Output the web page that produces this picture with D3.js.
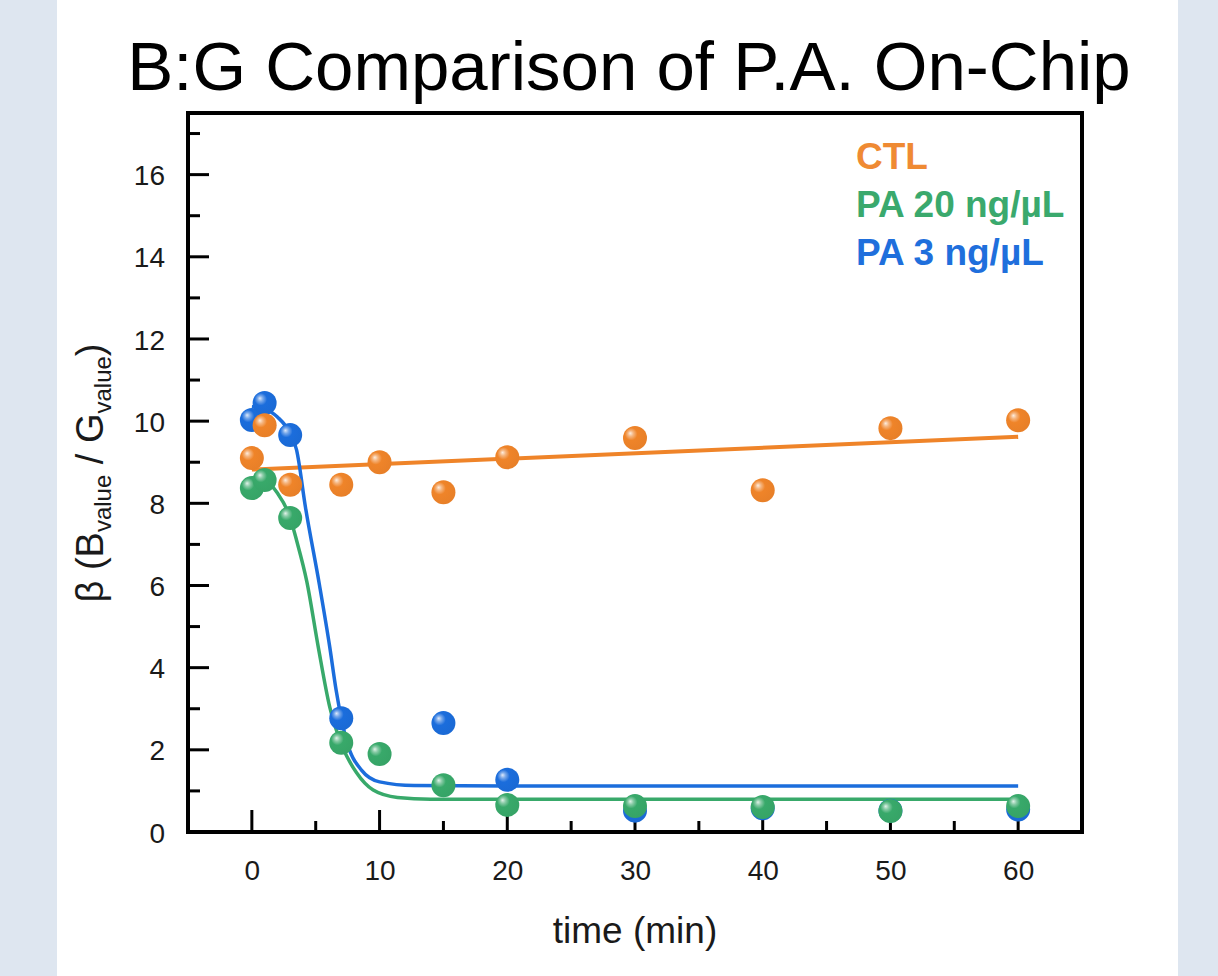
<!DOCTYPE html>
<html>
<head>
<meta charset="utf-8">
<script src="https://cdn.jsdelivr.net/npm/d3@7"></script>
<style>
  html, body { margin: 0; padding: 0; background: #dee6f0; }
  svg { display: block; }
</style>
</head>
<body>
<svg id="chart" width="1218" height="976"></svg>
<script>
// Sampling times (min)
const times = [0, 1, 3, 7, 10, 15, 20, 30, 40, 50, 60];
// Measured B:G ratio per condition (null = no sample)
const ctlValues  = [9.10, 9.90, 8.45, 8.45, 9.00, 8.27, 9.12, 9.59, 8.32, 9.83, 10.02];
const pa20Values = [8.37, 8.57, 7.64, 2.17, 1.90, 1.14, 0.66, 0.63, 0.61, 0.51, 0.63];
const pa3Values  = [10.03, 10.44, 9.66, 2.77, null, 2.65, 1.27, 0.52, 0.58, 0.52, 0.55];

// Fitted trend curves (time, value)
const ctlFitT  = [0, 60];
const ctlFitV  = [8.82, 9.62];
const pa20FitT = [0, 1, 2, 3, 3.5, 4.3, 5.2, 6.1, 7.1, 8.2, 9.5, 11.4, 14, 20, 60];
const pa20FitV = [8.62, 8.55, 8.25, 7.65, 7.10, 6.10, 4.50, 3.04, 2.07, 1.44, 1.02, 0.84, 0.80, 0.80, 0.80];
const pa3FitT  = [0, 1, 2, 3, 3.5, 4.2, 5.3, 6.1, 6.6, 7.4, 8.6, 10, 12.7, 20, 60];
const pa3FitV  = [10.35, 10.30, 10.10, 9.70, 9.30, 7.90, 6.00, 4.50, 3.45, 2.24, 1.50, 1.22, 1.13, 1.12, 1.12];

const seriesNames = ["CTL", "PA 20 ng/\u00b5L", "PA 3 ng/\u00b5L"];
const xTicks = [0, 10, 20, 30, 40, 50, 60];
const yTicks = [0, 2, 4, 6, 8, 10, 12, 14, 16];

const colors = { ctl: "#ef8429", pa20: "#38a96a", pa3: "#1b6ddc" };
const legendColors = ["#ef8a33", "#3aa96d", "#1f6fdc"];

const svg = d3.select("#chart");
const W = 1218, H = 976;

// white page panel
svg.append("rect").attr("x", 57).attr("y", 0).attr("width", 1121).attr("height", H).attr("fill", "#ffffff");

const plotL = 188, plotR = 1082, plotT = 113, plotB = 832;
const x = d3.scaleLinear().domain([-5, 65]).range([plotL, plotR]);
const y = d3.scaleLinear().domain([0, 17.5]).range([plotB, plotT]);

const font = "'Liberation Sans', Arial, Helvetica, sans-serif";

// title
svg.append("text")
  .attr("x", 629).attr("y", 90)
  .attr("text-anchor", "middle")
  .attr("font-family", font).attr("font-size", 69)
  .attr("fill", "#000")
  .text("B:G Comparison of P.A. On-Chip");

// gradients for shaded markers
const defs = svg.append("defs");
function sphere(id, base) {
  const c = d3.color(base);
  const g = defs.append("radialGradient").attr("id", id)
    .attr("cx", "40%").attr("cy", "40%").attr("r", "65%")
    .attr("fx", "30%").attr("fy", "30%");
  g.append("stop").attr("offset", "0%").attr("stop-color", d3.interpolateRgb(base, "#ffffff")(0.85));
  g.append("stop").attr("offset", "18%").attr("stop-color", d3.interpolateRgb(base, "#ffffff")(0.4));
  g.append("stop").attr("offset", "40%").attr("stop-color", base);
  g.append("stop").attr("offset", "100%").attr("stop-color", c.darker(0.1).formatHex());
}
sphere("sph-ctl", colors.ctl);
sphere("sph-pa20", colors.pa20);
sphere("sph-pa3", colors.pa3);

// ticks (drawn inside the frame)
const tickG = svg.append("g").attr("stroke", "#000").attr("stroke-width", 3);
d3.range(-5, 66, 5).filter(v => v > -5 && v < 65).forEach(v => {
  const major = v % 10 === 0;
  tickG.append("line")
    .attr("x1", x(v)).attr("x2", x(v))
    .attr("y1", plotB).attr("y2", plotB - (major ? 22 : 11));
});
d3.range(1, 18).forEach(v => {
  const major = v % 2 === 0;
  tickG.append("line")
    .attr("x1", plotL).attr("x2", plotL + (major ? 21 : 12))
    .attr("y1", y(v)).attr("y2", y(v));
});

// tick labels via axis generators
const xAxis = d3.axisBottom(x).tickValues(xTicks).tickSize(0).tickPadding(0).tickFormat(d3.format("d"));
const xg = svg.append("g").attr("transform", `translate(0,${plotB})`).call(xAxis);
xg.select(".domain").remove();
xg.selectAll("text").attr("y", 48).attr("dy", null)
  .attr("font-family", font).attr("font-size", 28).attr("fill", "#1a1a1a");

const yAxis = d3.axisLeft(y).tickValues(yTicks).tickSize(0).tickPadding(0).tickFormat(d3.format("d"));
const yg = svg.append("g").attr("transform", `translate(${plotL},0)`).call(yAxis);
yg.select(".domain").remove();
yg.selectAll("text").attr("x", -23).attr("dy", "0.36em")
  .attr("font-family", font).attr("font-size", 28).attr("fill", "#1a1a1a");

// fitted curves
const line = d3.line().x(d => x(d[0])).y(d => y(d[1])).curve(d3.curveMonotoneX);
const fits = [
  { t: ctlFitT, v: ctlFitV, c: colors.ctl, w: 4 },
  { t: pa20FitT, v: pa20FitV, c: colors.pa20, w: 3.5 },
  { t: pa3FitT, v: pa3FitV, c: colors.pa3, w: 3.5 }
];
fits.forEach(f => {
  svg.append("path")
    .datum(f.t.map((t, i) => [t, f.v[i]]))
    .attr("d", line)
    .attr("fill", "none")
    .attr("stroke", f.c)
    .attr("stroke-width", f.w);
});

// data markers: PA 3, then PA 20, then CTL on top
const markerSets = [
  { vals: pa3Values, grad: "sph-pa3" },
  { vals: pa20Values, grad: "sph-pa20" },
  { vals: ctlValues, grad: "sph-ctl" }
];
markerSets.forEach(s => {
  svg.append("g").selectAll("circle")
    .data(times.map((t, i) => [t, s.vals[i]]).filter(d => d[1] != null))
    .join("circle")
    .attr("cx", d => x(d[0]))
    .attr("cy", d => y(d[1]))
    .attr("r", 12)
    .attr("fill", `url(#${s.grad})`);
});

// frame
svg.append("rect")
  .attr("x", plotL).attr("y", plotT)
  .attr("width", plotR - plotL).attr("height", plotB - plotT)
  .attr("fill", "none").attr("stroke", "#000").attr("stroke-width", 4);

// legend
seriesNames.forEach((name, i) => {
  svg.append("text")
    .attr("x", 856).attr("y", 169 + i * 48)
    .attr("font-family", font).attr("font-size", 37).attr("font-weight", "bold")
    .attr("fill", legendColors[i])
    .text(name);
});

// axis titles
svg.append("text")
  .attr("x", 635).attr("y", 943)
  .attr("text-anchor", "middle")
  .attr("font-family", font).attr("font-size", 37).attr("fill", "#1a1a1a")
  .text("time (min)");

const yl = svg.append("text")
  .attr("transform", "translate(103,473) rotate(-90)")
  .attr("text-anchor", "middle")
  .attr("font-family", font).attr("font-size", 38).attr("fill", "#1a1a1a");
yl.append("tspan").text("\u03b2 (B");
yl.append("tspan").attr("font-size", 24).attr("dy", 8).text("value");
yl.append("tspan").attr("dy", -8).text(" / G");
yl.append("tspan").attr("font-size", 24).attr("dy", 8).text("value");
yl.append("tspan").attr("dy", -8).text(")");
</script>
</body>
</html>
